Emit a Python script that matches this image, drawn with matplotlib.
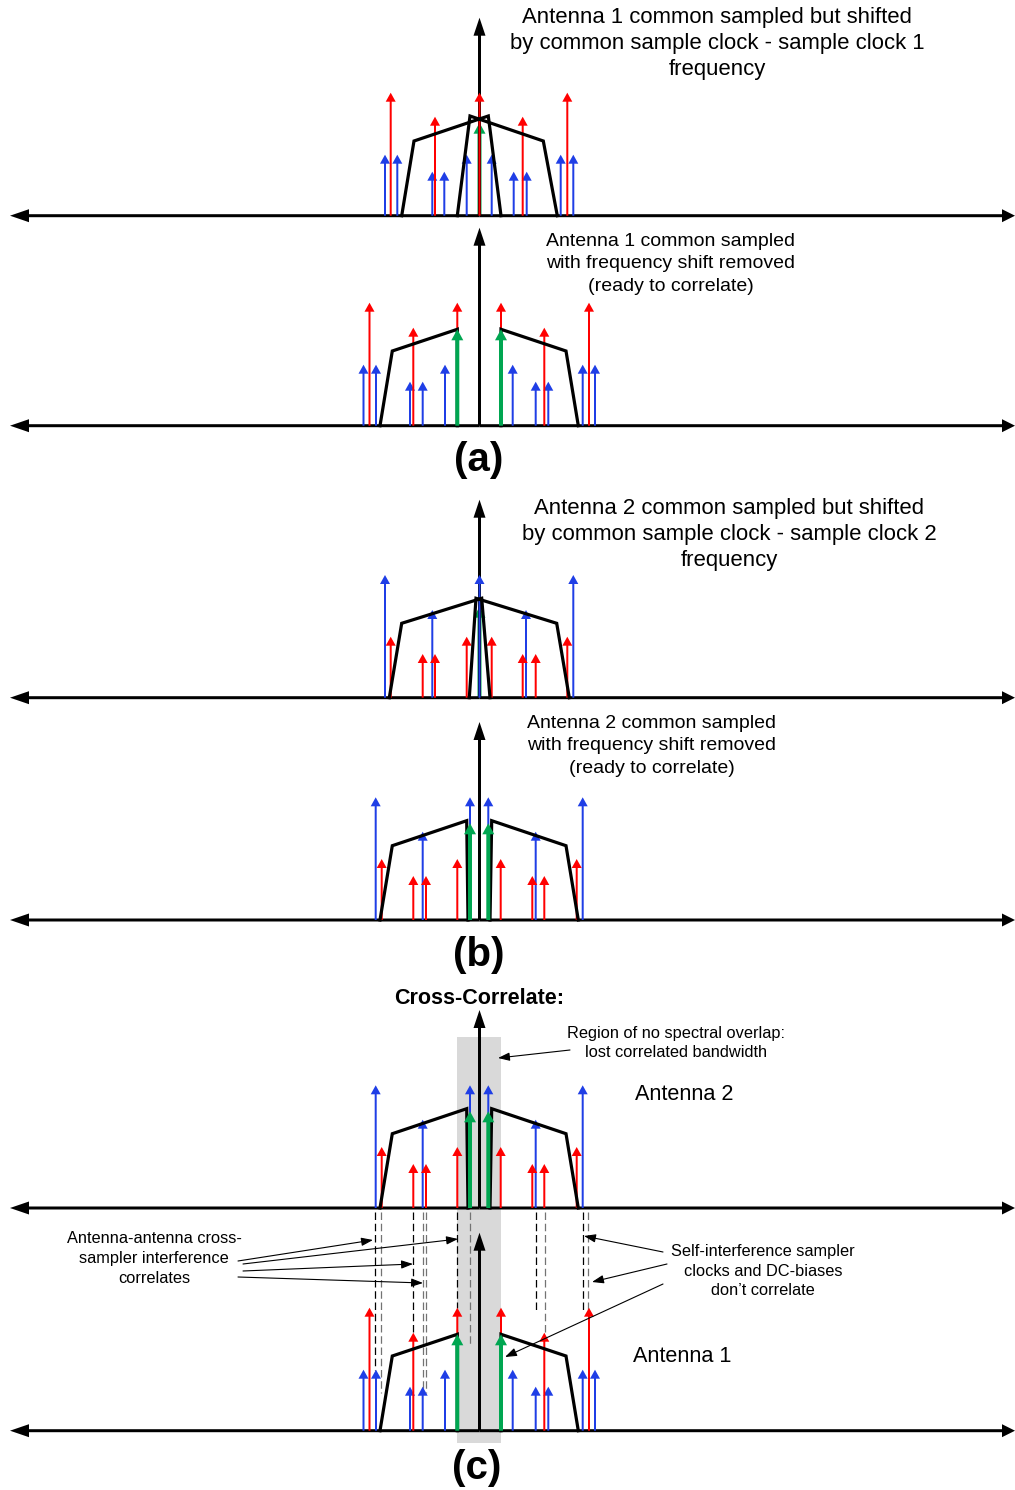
import matplotlib.pyplot as plt
from matplotlib.patches import Rectangle

plt.rcParams['font.family'] = ['Liberation Sans', 'DejaVu Sans']

RED = '#ff0000'
BLUE = '#1f3ee6'
GREEN = '#00a651'

# spectra: x = offset from the centre (DC) axis, h = height above the baseline

# antenna 1, shifted by (common clock - clock 1)
a1s_blue_x = [-94.5, -82.2, -47.2, -35.2, -12.8, 12.2, 34.2, 47.2, 81.2, 93.8]
a1s_blue_h = [61, 61, 44, 44, 61, 61, 44, 44, 61, 61]
a1s_red_x = [-88.8, -44.5, 0, 43.2, 87.8]
a1s_red_h = [123, 99, 123, 99, 123]
a1s_green_x = [0]
a1s_green_h = [93]
a1s_band1_x = [-77.8, -65.5, 8.8, 21.5]
a1s_band1_h = [0, 74.7, 99.7, 0]
a1s_band2_x = [-22.2, -9.5, 63.8, 77.8]
a1s_band2_h = [0, 99.7, 74.7, 0]

# antenna 1, shift removed
a1_blue_x = [-116, -103.5, -69.5, -56.8, -34.5, 33.2, 56.2, 68.8, 103.2, 115.5]
a1_blue_h = [61, 61, 44, 44, 61, 61, 44, 44, 61, 61]
a1_red_x = [-110, -66.2, -22.2, 21.5, 64.8, 109.5]
a1_red_h = [123, 98, 123, 123, 98, 123]
a1_green_x = [-22.2, 21.5]
a1_green_h = [96.4, 96.4]
a1_band1_x = [-99.5, -87.2, -22.2, -22.2]
a1_band1_h = [0, 74.7, 96.4, 0]
a1_band2_x = [21.5, 21.5, 86.5, 98.8]
a1_band2_h = [0, 96.4, 74.7, 0]

# antenna 2, shifted by (common clock - clock 2)
a2s_blue_x = [-94.5, -47.2, 0, 46.5, 93.8]
a2s_blue_h = [122.7, 87.7, 122.7, 87.7, 122.7]
a2s_red_x = [-88.8, -56.8, -44.5, -12.8, 12.2, 43.2, 56.2, 87.8]
a2s_red_h = [61, 43.7, 43.7, 61, 61, 43.7, 43.7, 61]
a2s_green_x = [0]
a2s_green_h = [91]
a2s_band1_x = [-90.2, -77.8, 2.2, 10.5]
a2s_band1_h = [0, 74.4, 99.4, 0]
a2s_band2_x = [-10.2, -3.5, 77.2, 89.8]
a2s_band2_h = [0, 99.4, 74.4, 0]

# antenna 2, shift removed
a2_blue_x = [-103.8, -56.8, -9.5, 8.8, 56.2, 103.2]
a2_blue_h = [122.7, 88.3, 122.7, 122.7, 88.3, 122.7]
a2_red_x = [-97.8, -66.2, -53.5, -22.2, 21.2, 52.8, 64.8, 97.2]
a2_red_h = [61, 44, 44, 61, 61, 44, 44, 61]
a2_green_x = [-9.5, 8.8]
a2_green_h = [96.7, 96.7]
a2_band1_x = [-99.5, -87.2, -12.8, -11.5]
a2_band1_h = [0, 74.3, 99.3, 0]
a2_band2_x = [10.5, 12.2, 86.5, 98.8]
a2_band2_h = [0, 99.3, 74.3, 0]

# dashed guide lines in (c): offset, end depth below the antenna-2 baseline
dash_x = [-104, -98, -66, -56.2, -53.5, -22.2, -9.5, 56.5, 65.5, 103.2, 108.8]
dash_end = [162, 185, 127, 185, 185, 100, 137, 102, 127, 102, 102]
dash_col = ['k', '0.45', 'k', '0.45', '0.45', 'k', '0.45', 'k', '0.45', 'k', '0.45']


def spec(bx, bh, rx, rh, gx, gh, l1x, l1h, l2x, l2h):
    return dict(blue=(bx, bh), red=(rx, rh), green=(gx, gh),
                bands=[(l1x, l1h), (l2x, l2h)])


a1_shift = spec(a1s_blue_x, a1s_blue_h, a1s_red_x, a1s_red_h, a1s_green_x, a1s_green_h,
                a1s_band1_x, a1s_band1_h, a1s_band2_x, a1s_band2_h)
a1 = spec(a1_blue_x, a1_blue_h, a1_red_x, a1_red_h, a1_green_x, a1_green_h,
          a1_band1_x, a1_band1_h, a1_band2_x, a1_band2_h)
a2_shift = spec(a2s_blue_x, a2s_blue_h, a2s_red_x, a2s_red_h, a2s_green_x, a2s_green_h,
                a2s_band1_x, a2s_band1_h, a2s_band2_x, a2s_band2_h)
a2 = spec(a2_blue_x, a2_blue_h, a2_red_x, a2_red_h, a2_green_x, a2_green_h,
          a2_band1_x, a2_band1_h, a2_band2_x, a2_band2_h)

cx = 479.5
panels = [(215.7, a1_shift), (425.7, a1), (697.7, a2_shift),
          (920, a2), (1208, a2), (1430.7, a1)]

fig = plt.figure(figsize=(10.15, 14.90), dpi=100)
ax = fig.add_axes([0, 0, 1, 1])
ax.set_xlim(0, 1015)
ax.set_ylim(1490, 0)
ax.axis('off')


def up(x, y0, h, color, w, hw, hl, z):
    ax.arrow(x, y0, 0, -h, width=w, head_width=hw, head_length=hl,
             length_includes_head=True, fc=color, ec='none', lw=0, zorder=z)


for base, s in panels:
    # frequency axis, double headed
    ax.arrow(cx, base, 10 - cx, 0, width=3, head_width=13, head_length=19,
             length_includes_head=True, fc='k', ec='none', lw=0, zorder=2)
    ax.arrow(cx, base, 1015 - cx, 0, width=3, head_width=13, head_length=13,
             length_includes_head=True, fc='k', ec='none', lw=0, zorder=2)
    # DC axis
    up(cx, base, 198, 'k', 3, 12, 18, 2)
    for x, h in zip(*s['blue']):
        up(cx + x, base, h, BLUE, 2, 10, 9, 3)
    for x, h in zip(*s['red']):
        up(cx + x, base, h, RED, 2, 10, 9, 3)
    for xs, hs in s['bands']:
        ax.plot([cx + x for x in xs], [base - h for h in hs], color='k', lw=2.3,
                solid_joinstyle='miter', zorder=4)
    for x, h in zip(*s['green']):
        # a tone sitting on DC is hidden behind the axis and the other tones
        up(cx + x, base, h, GREEN, 4, 12, 11, 1.8 if x == 0 else 5)

# region of no spectral overlap
ax.add_patch(Rectangle((457.3, 1037), 43.4, 406, fc='#d9d9d9', ec='none', zorder=1))

# dashed guides between antenna 2 and antenna 1 in (c)
for x, d, c in zip(dash_x, dash_end, dash_col):
    ax.plot([cx + x, cx + x], [1212, 1208 + d], color=c, lw=0.9,
            linestyle=(0, (6, 3)), zorder=1.5)

# texts
ax.text(717, 43.5, 'Antenna 1 common sampled but shifted\nby common sample clock - sample clock 1\nfrequency',
        ha='center', va='center', fontsize=15.9, linespacing=1.3)
ax.text(671, 264, 'Antenna 1 common sampled\nwith frequency shift removed\n(ready to correlate)',
        ha='center', va='center', fontsize=14, linespacing=1.4)
ax.text(479, 460, '(a)', ha='center', va='center', fontsize=29, fontweight='bold')
ax.text(729, 534.5, 'Antenna 2 common sampled but shifted\nby common sample clock - sample clock 2\nfrequency',
        ha='center', va='center', fontsize=15.9, linespacing=1.3)
ax.text(652, 746, 'Antenna 2 common sampled\nwith frequency shift removed\n(ready to correlate)',
        ha='center', va='center', fontsize=14, linespacing=1.4)
ax.text(479, 955, '(b)', ha='center', va='center', fontsize=29, fontweight='bold')
ax.text(479, 998, 'Cross-Correlate:', ha='center', va='center', fontsize=15.5, fontweight='bold')
ax.text(676, 1043, 'Region of no spectral overlap:\nlost correlated bandwidth',
        ha='center', va='center', fontsize=11.8, linespacing=1.4)
ax.text(684, 1095, 'Antenna 2', ha='center', va='center', fontsize=15.6)
ax.text(682, 1357, 'Antenna 1', ha='center', va='center', fontsize=15.6)
ax.text(154, 1258.5, 'Antenna-antenna cross-\nsampler interference\ncorrelates',
        ha='center', va='center', fontsize=11.8, linespacing=1.38)
ax.text(763, 1271, 'Self-interference sampler\nclocks and DC-biases\ndon\u2019t correlate',
        ha='center', va='center', fontsize=11.8, linespacing=1.38)
ax.text(477, 1468, '(c)', ha='center', va='center', fontsize=29, fontweight='bold')

# callout arrows
callouts = [((570, 1050), (498, 1058)),
            ((238, 1261), (373, 1240)), ((243, 1264), (458, 1239)),
            ((243, 1271), (413, 1264)), ((238, 1277), (423, 1283)),
            ((663, 1252), (584, 1236)), ((667, 1264), (592, 1282)),
            ((663, 1284), (505, 1357))]
for start, end in callouts:
    ax.annotate('', xy=end, xytext=start, zorder=6,
                arrowprops=dict(arrowstyle='-|>,head_length=0.7,head_width=0.25',
                                color='k', lw=0.8, shrinkA=0, shrinkB=0))

fig.savefig('out.png', dpi=100)
